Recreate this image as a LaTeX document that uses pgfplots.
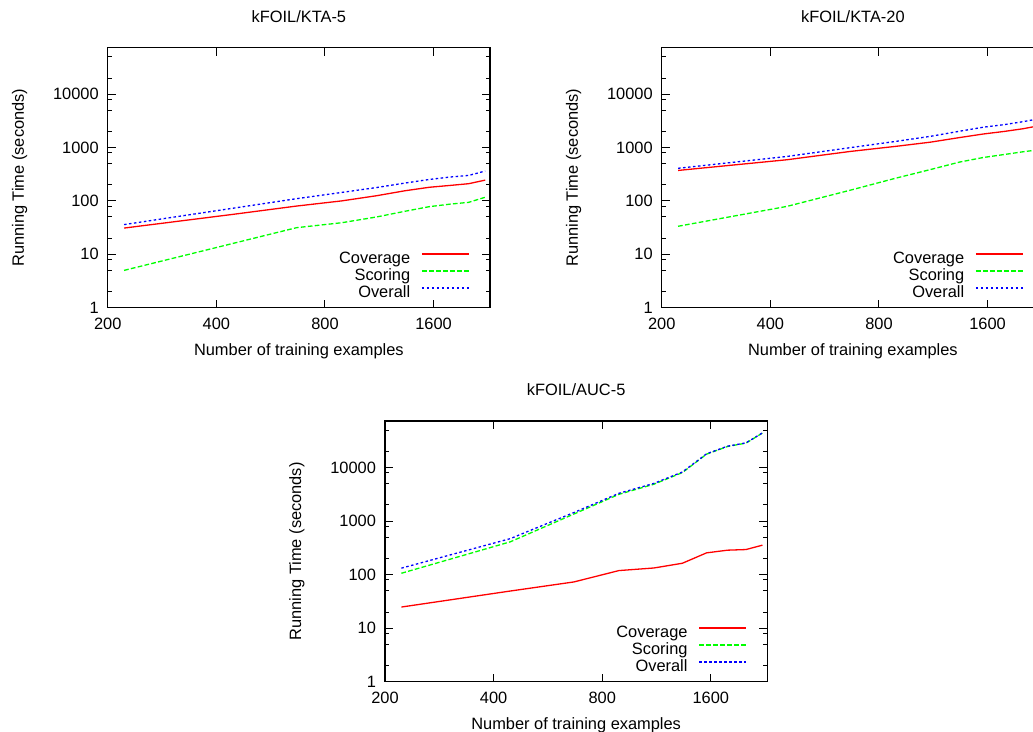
\documentclass[border=0pt]{standalone}
\usepackage{pgfplots}
\usepackage{pgfplotstable}
\pgfplotsset{compat=1.18}
\usepackage{fontspec}
\setmainfont{Liberation Sans}

\definecolor{covred}{RGB}{255,0,0}
\definecolor{scogreen}{RGB}{0,255,0}
\definecolor{ovrblue}{RGB}{0,0,255}

% Running times (seconds) against the number of training examples
\pgfplotstableread{
n    cov   sco   ovr
222  31    5.0   36
445  56    16    73
667  80    31.5  110
890  100   39    144
1112 125   50    178
1334 155   64    216
1557 180   78    252
1779 195   87    280
2002 210   94    300
2224 245   117   362
}\ktafive

\pgfplotstableread{
n    cov   sco   ovr
222  372   33.5  408
445  590   79    680
667  845   159   995
890  1050  266   1300
1112 1260  387   1620
1334 1530  531   2010
1557 1790  650   2400
1779 2000  739   2680
2002 2240  830   3040
2224 2560  910   3460
}\ktatwenty

\pgfplotstableread{
n    cov   sco    ovr
222  24.8  106    132
445  49.4  410    470
667  72.9  1350   1440
890  119   3160   3300
1112 133   4870   5050
1334 163   8050   8250
1557 255   17780  18050
1779 286   24700  25000
2002 294   28600  28900
2224 355   44000  44400
}\aucfive

\pgfplotsset{
  legend image code/.code={\draw[#1] (0pt,5.9pt) -- (47pt,5.9pt);},
}

\begin{document}
\begin{tikzpicture}[font=\fontsize{16.4}{19}\selectfont]
\begin{axis}[at={(107.7pt,423.3pt)}, anchor=south west, title={kFOIL/KTA-5},
    scale only axis, width=382.3pt, height=260pt,
    xmode=log, ymode=log, log basis x=2,
    xmin=200, xmax=2294, ymin=1, ymax=74000,
    xtick={200,400,800,1600}, xticklabels={200,400,800,1600},
    ytick={1,10,100,1000,10000}, yticklabels={1,10,100,1000,10000},
    minor ytick={2,5,8,20,50,80,200,500,800,2000,5000,8000,20000,50000},
    tick align=inside, xtick pos=both, ytick pos=both,
    major tick length=8pt, minor tick length=4pt,
    tick style={black, line width=1pt},
    axis line style={black, line width=1.3pt},
    yticklabel style={xshift=-5.5pt},
    xticklabel style={yshift=-7pt},
    title style={at={(0.5,1.096)}, anchor=center, inner sep=0pt},
    xlabel style={at={(0.5,-0.168)}, anchor=center, inner sep=0pt},
    ylabel style={at={(-0.2302,0.5)}, anchor=center, inner sep=0pt},
    xlabel={Number of training examples},
    ylabel={Running Time (seconds)},
    legend cell align=right, legend plot pos=right,
    legend style={draw=none, fill=none, at={(1,0)}, anchor=south east,
      xshift=-20.5pt, yshift=5.2pt, inner sep=0pt, outer sep=0pt,
      row sep=0pt, column sep=11pt,
      nodes={inner sep=0pt, text height=12.1pt, text depth=4.9pt}}]
\addplot[color=covred, draw=covred, line width=1.3pt, solid] table[x=n, y=cov] {\ktafive};
\addlegendentry{Coverage}
\addplot[color=scogreen, draw=scogreen, line width=1.3pt, dash pattern=on 4.7pt off 2.3pt] table[x=n, y=sco] {\ktafive};
\addlegendentry{Scoring}
\addplot[color=ovrblue, draw=ovrblue, line width=1.3pt, dash pattern=on 2.5pt off 2.5pt] table[x=n, y=ovr] {\ktafive};
\addlegendentry{Overall}
\end{axis}

\begin{axis}[at={(661.7pt,423.3pt)}, anchor=south west, title={kFOIL/KTA-20},
    scale only axis, width=382.3pt, height=260pt,
    xmode=log, ymode=log, log basis x=2,
    xmin=200, xmax=2294, ymin=1, ymax=74000,
    xtick={200,400,800,1600}, xticklabels={200,400,800,1600},
    ytick={1,10,100,1000,10000}, yticklabels={1,10,100,1000,10000},
    minor ytick={2,5,8,20,50,80,200,500,800,2000,5000,8000,20000,50000},
    tick align=inside, xtick pos=both, ytick pos=both,
    major tick length=8pt, minor tick length=4pt,
    tick style={black, line width=1pt},
    axis line style={black, line width=1.3pt},
    yticklabel style={xshift=-5.5pt},
    xticklabel style={yshift=-7pt},
    title style={at={(0.5,1.096)}, anchor=center, inner sep=0pt},
    xlabel style={at={(0.5,-0.168)}, anchor=center, inner sep=0pt},
    ylabel style={at={(-0.2302,0.5)}, anchor=center, inner sep=0pt},
    xlabel={Number of training examples},
    ylabel={Running Time (seconds)},
    legend cell align=right, legend plot pos=right,
    legend style={draw=none, fill=none, at={(1,0)}, anchor=south east,
      xshift=-20.5pt, yshift=5.2pt, inner sep=0pt, outer sep=0pt,
      row sep=0pt, column sep=11pt,
      nodes={inner sep=0pt, text height=12.1pt, text depth=4.9pt}}]
\addplot[color=covred, draw=covred, line width=1.3pt, solid] table[x=n, y=cov] {\ktatwenty};
\addlegendentry{Coverage}
\addplot[color=scogreen, draw=scogreen, line width=1.3pt, dash pattern=on 4.7pt off 2.3pt] table[x=n, y=sco] {\ktatwenty};
\addlegendentry{Scoring}
\addplot[color=ovrblue, draw=ovrblue, line width=1.3pt, dash pattern=on 2.5pt off 2.5pt] table[x=n, y=ovr] {\ktatwenty};
\addlegendentry{Overall}
\end{axis}

\begin{axis}[at={(385pt,49.3pt)}, anchor=south west, title={kFOIL/AUC-5},
    scale only axis, width=382.3pt, height=260.7pt,
    xmode=log, ymode=log, log basis x=2,
    xmin=200, xmax=2294, ymin=1, ymax=74000,
    xtick={200,400,800,1600}, xticklabels={200,400,800,1600},
    ytick={1,10,100,1000,10000}, yticklabels={1,10,100,1000,10000},
    minor ytick={2,5,8,20,50,80,200,500,800,2000,5000,8000,20000,50000},
    tick align=inside, xtick pos=both, ytick pos=both,
    major tick length=8pt, minor tick length=4pt,
    tick style={black, line width=1pt},
    axis line style={black, line width=1.3pt},
    yticklabel style={xshift=-5.5pt},
    xticklabel style={yshift=-7pt},
    title style={at={(0.5,1.096)}, anchor=center, inner sep=0pt},
    xlabel style={at={(0.5,-0.168)}, anchor=center, inner sep=0pt},
    ylabel style={at={(-0.2302,0.5)}, anchor=center, inner sep=0pt},
    xlabel={Number of training examples},
    ylabel={Running Time (seconds)},
    legend cell align=right, legend plot pos=right,
    legend style={draw=none, fill=none, at={(1,0)}, anchor=south east,
      xshift=-20.5pt, yshift=5.2pt, inner sep=0pt, outer sep=0pt,
      row sep=0pt, column sep=11pt,
      nodes={inner sep=0pt, text height=12.1pt, text depth=4.9pt}}]
\addplot[color=covred, draw=covred, line width=1.3pt, solid] table[x=n, y=cov] {\aucfive};
\addlegendentry{Coverage}
\addplot[color=scogreen, draw=scogreen, line width=1.3pt, dash pattern=on 4.7pt off 2.3pt] table[x=n, y=sco] {\aucfive};
\addlegendentry{Scoring}
\addplot[color=ovrblue, draw=ovrblue, line width=1.3pt, dash pattern=on 2.5pt off 2.5pt] table[x=n, y=ovr] {\aucfive};
\addlegendentry{Overall}
\end{axis}

\pgfresetboundingbox
\useasboundingbox (0pt,0pt) rectangle (1033pt,731pt);
\end{tikzpicture}
\end{document}
